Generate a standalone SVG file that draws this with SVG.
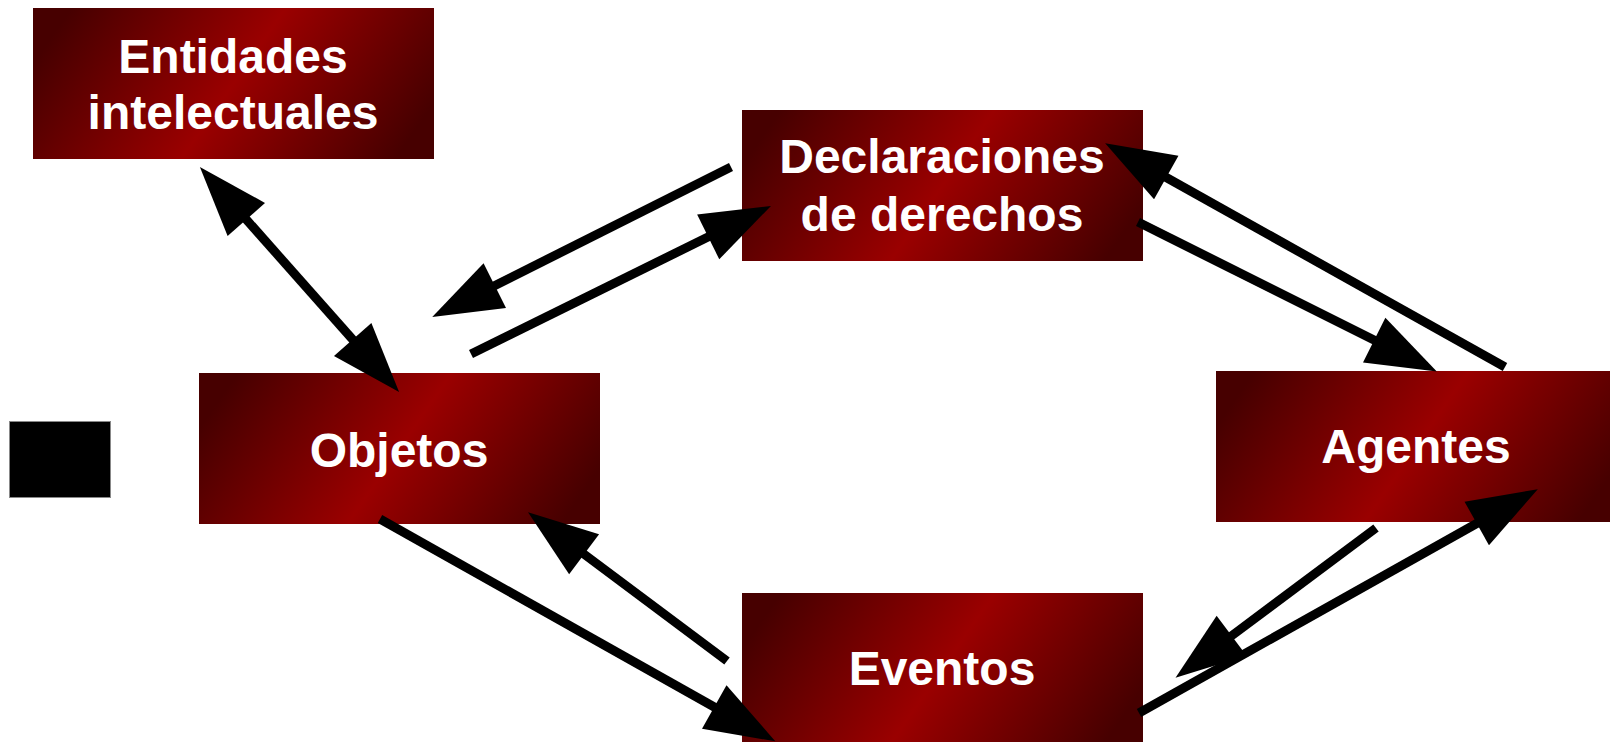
<svg xmlns="http://www.w3.org/2000/svg" width="1610" height="742" viewBox="0 0 1610 742">
  <defs>
    <linearGradient id="boxGrad" x1="0" y1="0.37" x2="1" y2="0.63">
      <stop offset="0" stop-color="#470000"/>
      <stop offset="0.5" stop-color="#9a0000"/>
      <stop offset="1" stop-color="#470000"/>
    </linearGradient>
    <marker id="head" markerUnits="userSpaceOnUse" markerWidth="72" markerHeight="54" refX="2" refY="25" orient="auto-start-reverse" overflow="visible">
      <path d="M0,0 L70,25 L0,50 Z" fill="#000"/>
    </marker>
  </defs>
  <style>
    .box { fill: url(#boxGrad); }
    .lbl { font-family: "Liberation Sans", Arial, sans-serif; font-weight: bold; font-size: 48px; fill: #ffffff; text-anchor: middle; }
    .conn { stroke: #000; stroke-width: 9; fill: none; }
  </style>
  <rect width="1610" height="742" fill="#ffffff"/>

  <g id="node-entidades">
    <rect class="box" x="33" y="8" width="401" height="151"/>
    <text class="lbl" x="233" y="73">Entidades</text>
    <text class="lbl" x="233" y="129">intelectuales</text>
  </g>
  <g id="node-declaraciones">
    <rect class="box" x="742" y="110" width="401" height="151"/>
    <text class="lbl" x="942" y="173">Declaraciones</text>
    <text class="lbl" x="942" y="231">de derechos</text>
  </g>
  <g id="node-objetos">
    <rect class="box" x="199" y="373" width="401" height="151"/>
    <text class="lbl" x="399" y="467">Objetos</text>
  </g>
  <g id="node-agentes">
    <rect class="box" x="1216" y="371" width="401" height="151"/>
    <text class="lbl" x="1416" y="463">Agentes</text>
  </g>
  <g id="node-eventos">
    <rect class="box" x="742" y="593" width="401" height="151"/>
    <text class="lbl" x="942" y="685">Eventos</text>
  </g>
  <g id="node-square">
    <rect x="9.5" y="421.5" width="101" height="76" fill="#000" stroke="#888" stroke-width="1"/>
  </g>

  <g id="connectors">
    <line class="conn" x1="245" y1="218" x2="354" y2="341" marker-start="url(#head)" marker-end="url(#head)"/>
    <line class="conn" x1="731" y1="167" x2="493" y2="286.5" marker-end="url(#head)"/>
    <line class="conn" x1="471" y1="354" x2="710" y2="236" marker-end="url(#head)"/>
    <line class="conn" x1="1505" y1="367" x2="1164.5" y2="176.5" marker-end="url(#head)"/>
    <line class="conn" x1="1138" y1="222" x2="1376" y2="341" marker-end="url(#head)"/>
    <line class="conn" x1="1376" y1="528" x2="1230" y2="637" marker-end="url(#head)"/>
    <line class="conn" x1="1139" y1="713" x2="1478.5" y2="522.5" marker-end="url(#head)"/>
    <line class="conn" x1="380" y1="519" x2="716" y2="708" marker-end="url(#head)"/>
    <line class="conn" x1="727" y1="661" x2="582.5" y2="553" marker-end="url(#head)"/>
  </g>
</svg>
